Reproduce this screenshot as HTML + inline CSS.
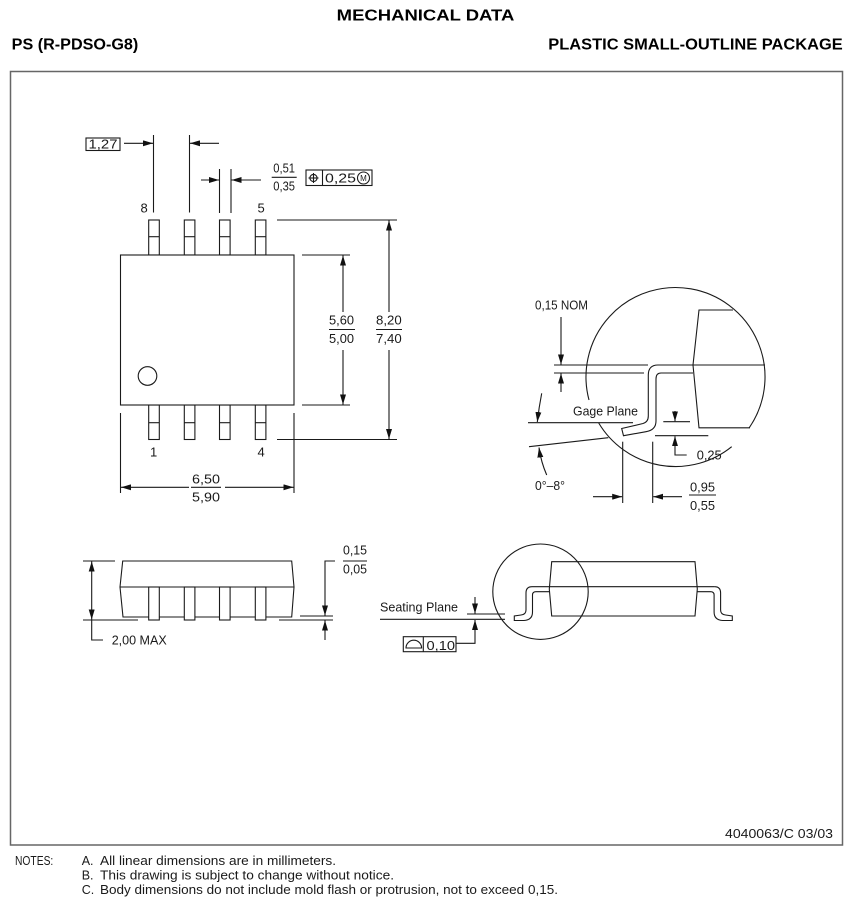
<!DOCTYPE html>
<html>
<head>
<meta charset="utf-8">
<style>
html,body{margin:0;padding:0;background:#fff;}
svg{display:block;}
text{font-family:"Liberation Sans",sans-serif;fill:#1a1a1a;}
.t{font-size:13px;}
.n{font-size:12.5px;fill:#222;}
.h{font-size:16px;font-weight:bold;fill:#000;}
</style>
</head>
<body>
<svg width="850" height="909" viewBox="0 0 850 909" xmlns="http://www.w3.org/2000/svg">
<defs>
<marker id="ar" viewBox="0 0 10 6" refX="10" refY="3" markerWidth="10" markerHeight="6" markerUnits="userSpaceOnUse" orient="auto">
<path d="M0,0L10,3L0,6z" fill="#111"/>
</marker>
</defs>
<rect width="850" height="909" fill="#fff"/>

<!-- Header -->
<text class="h" x="336.7" y="20.7" textLength="177.6" lengthAdjust="spacingAndGlyphs">MECHANICAL DATA</text>
<text class="h" x="11.7" y="49.3" textLength="126.6" lengthAdjust="spacingAndGlyphs">PS (R-PDSO-G8)</text>
<text class="h" x="548.3" y="49.3" textLength="294.4" lengthAdjust="spacingAndGlyphs">PLASTIC SMALL-OUTLINE PACKAGE</text>

<!-- Frame -->
<rect x="10.5" y="71.5" width="832" height="773.5" fill="none" stroke="#666" stroke-width="1.5"/>

<g stroke="#1a1a1a" stroke-width="1.1" fill="none">
<!-- ===== TOP VIEW ===== -->
<rect x="86" y="138" width="34" height="12.5"/>
<line x1="124" y1="143.3" x2="153" y2="143.3" marker-end="url(#ar)"/>
<line x1="153.5" y1="135" x2="153.5" y2="212.5"/>
<line x1="189.5" y1="135" x2="189.5" y2="212.5"/>
<line x1="219" y1="143.3" x2="190" y2="143.3" marker-end="url(#ar)"/>
<line x1="219.5" y1="169" x2="219.5" y2="213"/>
<line x1="231" y1="169" x2="231" y2="213"/>
<line x1="201" y1="180" x2="219" y2="180" marker-end="url(#ar)"/>
<line x1="261" y1="180" x2="231.5" y2="180" marker-end="url(#ar)"/>
<line x1="271.7" y1="177.3" x2="296.7" y2="177.3"/>
<!-- tolerance box -->
<rect x="306" y="170" width="66" height="15.5"/>
<line x1="322.5" y1="170" x2="322.5" y2="185.5"/>
<circle cx="313.5" cy="178" r="3.6"/>
<line x1="308.5" y1="178" x2="318.5" y2="178"/>
<line x1="313.5" y1="173" x2="313.5" y2="183"/>
<circle cx="363.5" cy="178" r="6"/>

<!-- pins top -->
<g fill="#fff">
<rect x="148.7" y="220" width="10.6" height="35"/>
<rect x="184.3" y="220" width="10.6" height="35"/>
<rect x="219.5" y="220" width="10.6" height="35"/>
<rect x="255.3" y="220" width="10.6" height="35"/>
<rect x="148.7" y="405" width="10.6" height="34.5"/>
<rect x="184.3" y="405" width="10.6" height="34.5"/>
<rect x="219.5" y="405" width="10.6" height="34.5"/>
<rect x="255.3" y="405" width="10.6" height="34.5"/>
</g>
<line x1="148.7" y1="236.7" x2="159.3" y2="236.7"/>
<line x1="184.3" y1="236.7" x2="194.9" y2="236.7"/>
<line x1="219.5" y1="236.7" x2="230.1" y2="236.7"/>
<line x1="255.3" y1="236.7" x2="265.9" y2="236.7"/>
<line x1="148.7" y1="422.7" x2="159.3" y2="422.7"/>
<line x1="184.3" y1="422.7" x2="194.9" y2="422.7"/>
<line x1="219.5" y1="422.7" x2="230.1" y2="422.7"/>
<line x1="255.3" y1="422.7" x2="265.9" y2="422.7"/>
<!-- body -->
<rect x="120.5" y="255" width="173.5" height="150" fill="#fff"/>
<circle cx="147.5" cy="376" r="9.3"/>
<!-- extension lines right -->
<line x1="277" y1="220" x2="397" y2="220"/>
<line x1="302" y1="255" x2="350" y2="255"/>
<line x1="302" y1="405" x2="350" y2="405"/>
<line x1="277" y1="439.5" x2="397" y2="439.5"/>
<line x1="343" y1="312" x2="343" y2="255.5" marker-end="url(#ar)"/>
<line x1="343" y1="350" x2="343" y2="404.5" marker-end="url(#ar)"/>
<line x1="389" y1="312" x2="389" y2="220.5" marker-end="url(#ar)"/>
<line x1="389" y1="350" x2="389" y2="439" marker-end="url(#ar)"/>
<line x1="329" y1="329.5" x2="355" y2="329.5"/>
<line x1="376" y1="329.5" x2="402" y2="329.5"/>
<!-- width dim -->
<line x1="120.5" y1="413" x2="120.5" y2="493"/>
<line x1="294" y1="413" x2="294" y2="493"/>
<line x1="189" y1="487.3" x2="121" y2="487.3" marker-end="url(#ar)"/>
<line x1="225" y1="487.3" x2="293.5" y2="487.3" marker-end="url(#ar)"/>
<line x1="191" y1="487.3" x2="221" y2="487.3"/>

<!-- ===== DETAIL VIEW ===== -->
<path d="M598.7,423 A89.5,89.5 0 0 0 731.7,446.7"/>
<path d="M749.2,427.8 A89.5,89.5 0 1 0 589,400"/>
<path d="M733,310 L699,310 L693,365 L699,427.8 L750,427.8"/>
<line x1="658" y1="365" x2="765" y2="365"/>
<path d="M693,373 L661,373 Q656,373 656,379 L656,421 Q656,430 646,431.7 L623.5,435.7 L621.7,428.5 L643,423.5 Q648.3,422 648.3,416 L648.3,375 Q648.3,365 658,365"/>
<line x1="554" y1="365" x2="648" y2="365"/>
<line x1="554" y1="373" x2="644" y2="373"/>
<line x1="561" y1="317" x2="561" y2="364.5" marker-end="url(#ar)"/>
<line x1="561" y1="392" x2="561" y2="373.5" marker-end="url(#ar)"/>
<line x1="528" y1="422.7" x2="633" y2="422.7"/>
<path d="M541.7,393.3 Q539,407 537.3,422" marker-end="url(#ar)"/>
<line x1="529" y1="446.7" x2="608.3" y2="437.7"/>
<path d="M546.7,475 Q541,462 539,447.5" marker-end="url(#ar)"/>
<line x1="663.3" y1="421.7" x2="690" y2="421.7"/>
<line x1="655" y1="435.7" x2="708.3" y2="435.7"/>
<line x1="675" y1="411" x2="675" y2="421.3" marker-end="url(#ar)"/>
<path d="M686.7,455 L675,455 L675,436.2" marker-end="url(#ar)"/>
<line x1="622.7" y1="441.7" x2="622.7" y2="503"/>
<line x1="652.7" y1="441.7" x2="652.7" y2="503"/>
<line x1="593" y1="496.7" x2="622.2" y2="496.7" marker-end="url(#ar)"/>
<line x1="682" y1="496.7" x2="653.2" y2="496.7" marker-end="url(#ar)"/>
<line x1="689" y1="495" x2="716" y2="495"/>

<!-- ===== SIDE VIEW LEFT ===== -->
<path d="M122.7,561 L291.7,561 L294,587 L291.7,617 L123,617 L120,587 Z"/>
<line x1="120" y1="587" x2="294" y2="587"/>
<g fill="#fff">
<rect x="148.7" y="587" width="10.6" height="33"/>
<rect x="184.3" y="587" width="10.6" height="33"/>
<rect x="219.5" y="587" width="10.6" height="33"/>
<rect x="255.3" y="587" width="10.6" height="33"/>
</g>
<line x1="83" y1="561" x2="115" y2="561"/>
<line x1="83" y1="620" x2="138" y2="620"/>
<line x1="91.7" y1="590" x2="91.7" y2="561.5" marker-end="url(#ar)"/>
<line x1="91.7" y1="590" x2="91.7" y2="619.5" marker-end="url(#ar)"/>
<path d="M91.7,620 L91.7,640 L103,640"/>
<line x1="300" y1="616" x2="333" y2="616"/>
<line x1="279" y1="620" x2="333" y2="620"/>
<path d="M335,561 L325,561 L325,615.5" marker-end="url(#ar)"/>
<line x1="325" y1="640" x2="325" y2="620.5" marker-end="url(#ar)"/>
<line x1="343" y1="561" x2="367" y2="561"/>

<!-- ===== SIDE VIEW RIGHT ===== -->
<circle cx="540.5" cy="591.7" r="47.7"/>
<path d="M551.7,561.7 L695,561.7 L697.3,589 L695,616 L551.7,616 L549.3,589 Z"/>
<line x1="532" y1="586.7" x2="714.6" y2="586.7"/>
<path d="M532,586.7 Q526,586.7 526,593 L526,610 Q526,614.5 521,615 L514.3,616 L514.3,620.5 L524,620.5 Q532.5,620 532.5,612 L532.5,595 Q532.5,591.7 536,591.7 L549.6,591.7"/>
<path d="M714.6,586.7 Q720.6,586.7 720.6,593 L720.6,610 Q720.6,614.5 725.6,615 L732.3,616 L732.3,620.5 L722.6,620.5 Q714.1,620 714.1,612 L714.1,595 Q714.1,591.7 710.6,591.7 L697,591.7"/>
<line x1="380" y1="619.3" x2="505" y2="619.3"/>
<line x1="467" y1="614" x2="505" y2="614"/>
<line x1="475" y1="597" x2="475" y2="613.5" marker-end="url(#ar)"/>
<path d="M456,643.3 L475,643.3 L475,620" marker-end="url(#ar)"/>
<rect x="403.3" y="636.7" width="52.7" height="15"/>
<line x1="423.3" y1="636.7" x2="423.3" y2="651.7"/>
<path d="M406,648 A7.8,7.8 0 0 1 421.6,648 Z"/>
</g>

<!-- ===== TEXT ===== -->
<g class="t">
<text x="88.5" y="148.5" textLength="29" lengthAdjust="spacingAndGlyphs">1,27</text>
<text x="273.3" y="172.5" textLength="21.7" lengthAdjust="spacingAndGlyphs">0,51</text>
<text x="273.3" y="190.5" textLength="21.7" lengthAdjust="spacingAndGlyphs">0,35</text>
<text x="325" y="182.5" textLength="31" lengthAdjust="spacingAndGlyphs">0,25</text>
<text x="363.5" y="181" font-size="8" text-anchor="middle">M</text>
<text x="140.5" y="212.5">8</text>
<text x="257.5" y="212.5">5</text>
<text x="150" y="456.5">1</text>
<text x="257.5" y="456.5">4</text>
<text x="329" y="324.5" textLength="25" lengthAdjust="spacingAndGlyphs">5,60</text>
<text x="329" y="343" textLength="25" lengthAdjust="spacingAndGlyphs">5,00</text>
<text x="376" y="324.5" textLength="25.7" lengthAdjust="spacingAndGlyphs">8,20</text>
<text x="376" y="343" textLength="25.7" lengthAdjust="spacingAndGlyphs">7,40</text>
<text x="192" y="483.3" textLength="28" lengthAdjust="spacingAndGlyphs">6,50</text>
<text x="192" y="501.7" textLength="28" lengthAdjust="spacingAndGlyphs">5,90</text>

<text x="535" y="309.5" textLength="53" lengthAdjust="spacingAndGlyphs">0,15  NOM</text>
<text x="573" y="415.5" textLength="65" lengthAdjust="spacingAndGlyphs">Gage  Plane</text>
<text x="535" y="490" textLength="30" lengthAdjust="spacingAndGlyphs">0°–8°</text>
<text x="696.7" y="459.5" textLength="25" lengthAdjust="spacingAndGlyphs">0,25</text>
<text x="690" y="491.5" textLength="25" lengthAdjust="spacingAndGlyphs">0,95</text>
<text x="690" y="510" textLength="25" lengthAdjust="spacingAndGlyphs">0,55</text>

<text x="111.7" y="644.5" textLength="55" lengthAdjust="spacingAndGlyphs">2,00  MAX</text>
<text x="343" y="554.5" textLength="24" lengthAdjust="spacingAndGlyphs">0,15</text>
<text x="343" y="573.5" textLength="24" lengthAdjust="spacingAndGlyphs">0,05</text>

<text x="380" y="611.7" textLength="78" lengthAdjust="spacingAndGlyphs">Seating  Plane</text>
<text x="426.5" y="650" textLength="28.5" lengthAdjust="spacingAndGlyphs">0,10</text>

<text x="725" y="838" textLength="108" lengthAdjust="spacingAndGlyphs">4040063/C  03/03</text>
</g>

<!-- Notes -->
<g class="n">
<text x="15" y="865" textLength="38.3" lengthAdjust="spacingAndGlyphs">NOTES:</text>
<text x="81.7" y="865">A.</text>
<text x="81.7" y="879.5">B.</text>
<text x="81.7" y="894">C.</text>
<text x="100" y="865" textLength="236" lengthAdjust="spacingAndGlyphs">All linear dimensions are in millimeters.</text>
<text x="100" y="879.5" textLength="294" lengthAdjust="spacingAndGlyphs">This drawing is subject to change without notice.</text>
<text x="100" y="894" textLength="458" lengthAdjust="spacingAndGlyphs">Body dimensions do not include mold flash or protrusion, not to exceed 0,15.</text>
</g>
</svg>
</body>
</html>
